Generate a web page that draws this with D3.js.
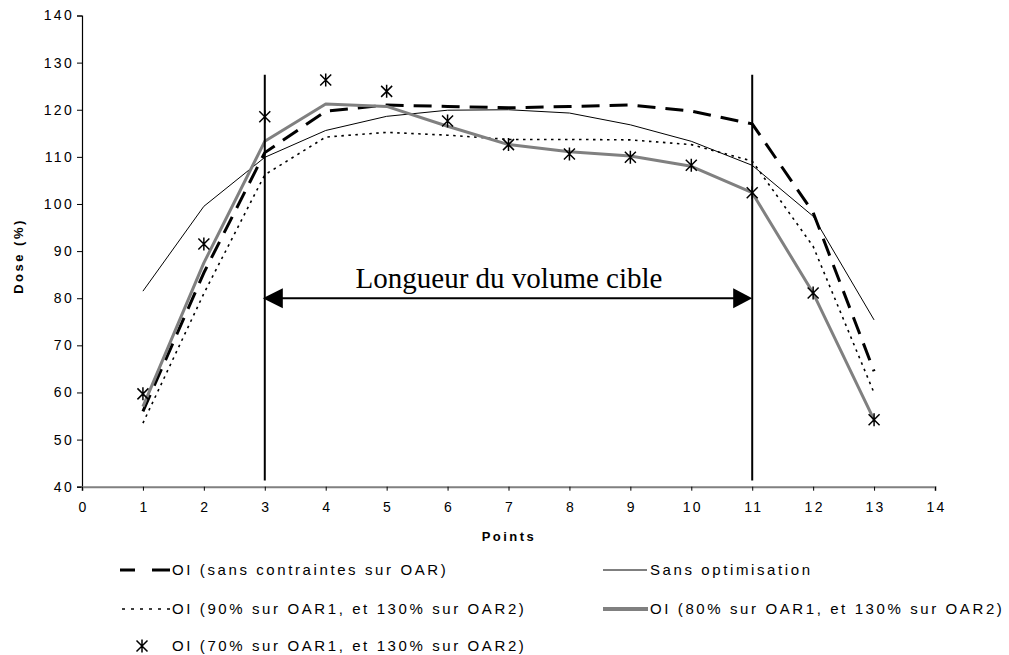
<!DOCTYPE html>
<html><head><meta charset="utf-8">
<script src="https://cdn.jsdelivr.net/npm/d3@7"></script>
<style>
body{margin:0;background:#fff;}
svg{display:block;font-family:"Liberation Sans",Arial,sans-serif;}
</style></head>
<body><svg id="chart" width="1009" height="655"></svg>
<script>
const points = [1,2,3,4,5,6,7,8,9,10,11,12,13];
const xTicks = [0,1,2,3,4,5,6,7,8,9,10,11,12,13,14];
const yTicks = [40,50,60,70,80,90,100,110,120,130,140];
const oiSansContraintes = [56.0, 85.4, 110.9, 119.7, 121.0, 120.7, 120.4, 120.7, 121.0, 119.7, 117.0, 98.2, 64.5];
const sansOptimisation  = [81.5, 99.5, 109.9, 115.6, 118.6, 119.9, 120.0, 119.3, 116.8, 113.3, 108.2, 97.4, 75.4];
const oi90 = [53.5, 81.0, 106.2, 114.2, 115.2, 114.6, 113.7, 113.7, 113.6, 112.6, 109.1, 91.0, 59.9];
const oi80 = [57.0, 87.5, 113.3, 121.2, 120.7, 116.5, 112.6, 111.1, 110.2, 108.0, 102.4, 81.1, 54.2];
const oi70 = [59.7, 91.5, 118.5, 126.3, 123.9, 117.6, 112.6, 110.6, 109.9, 108.2, 102.4, 81.1, 54.2];
const seriesNames = ["OI (sans contraintes sur OAR)", "Sans optimisation", "OI (90% sur OAR1, et 130% sur OAR2)", "OI (80% sur OAR1, et 130% sur OAR2)", "OI (70% sur OAR1, et 130% sur OAR2)"];
const targetBounds = [3, 11];
const targetSpan = [41.3, 127.4];
const arrowLevel = 80;
const annotationText = "Longueur du volume cible";
const xTitle = "Points";
const yTitle = "Dose (%)";

const svg = d3.select("#chart");
const x = d3.scaleLinear().domain([0,14]).range([82,935]);
const y = d3.scaleLinear().domain([40,140]).range([486.7,15.5]);

// Y axis
const ya = svg.append("g").attr("transform","translate(82,0)")
  .call(d3.axisLeft(y).tickValues(yTicks).tickSize(5).tickPadding(5));
ya.select(".domain").attr("stroke","#000").attr("stroke-width",1.2);
ya.selectAll(".tick line").attr("stroke","#000");
ya.selectAll("text").attr("font-size",14).attr("font-family","Liberation Sans, Arial, sans-serif")
  .attr("letter-spacing","2.3px").attr("fill","#000").attr("dx","2");

// X axis
const xa = svg.append("g").attr("transform","translate(0,"+y(40)+")")
  .call(d3.axisBottom(x).tickValues(xTicks).tickSize(4).tickPadding(11).tickSizeOuter(4));
xa.select(".domain").attr("stroke","#808080").attr("stroke-width",2);
xa.selectAll(".tick line").attr("stroke","#000");
xa.selectAll("text").attr("font-size",14).attr("font-family","Liberation Sans, Arial, sans-serif")
  .attr("letter-spacing","2.3px").attr("fill","#000").attr("dx","1");

// axis titles
svg.append("text").attr("x",509).attr("y",541).attr("text-anchor","middle")
  .attr("font-weight","bold").attr("font-size",13).attr("letter-spacing","2.5px").text(xTitle);
svg.append("text").attr("transform","translate(23,256) rotate(-90)").attr("text-anchor","middle")
  .attr("font-weight","bold").attr("font-size",13).attr("letter-spacing","2.5px").text(yTitle);

const line = d3.line().x((d,i)=>x(points[i])).y(d=>y(d));
const styles = [
  {data:oiSansContraintes, stroke:"#000", width:3, dash:"18,10"},
  {data:sansOptimisation, stroke:"#000", width:1, dash:null},
  {data:oi90, stroke:"#000", width:1.6, dash:"2.5,4.5"},
  {data:oi80, stroke:"#808080", width:3, dash:null}
];
styles.forEach(s=>{
  svg.append("path").datum(s.data).attr("d",line).attr("fill","none")
    .attr("stroke",s.stroke).attr("stroke-width",s.width)
    .attr("stroke-dasharray",s.dash).attr("stroke-linejoin","round");
});

const starPath = "M-5.5,-5.5L5.5,5.5M-5.5,5.5L5.5,-5.5M0,-6.5L0,6.5";
svg.append("g").selectAll("path").data(oi70).join("path")
  .attr("transform",(d,i)=>"translate("+x(points[i])+","+y(d)+")")
  .attr("d",starPath).attr("stroke","#000").attr("stroke-width",1.5).attr("fill","none");

// annotation: target volume bounds
targetBounds.forEach(b=>{
  svg.append("line").attr("x1",x(b)).attr("x2",x(b)).attr("y1",y(targetSpan[1])).attr("y2",y(targetSpan[0]))
    .attr("stroke","#000").attr("stroke-width",2);
});
const ay = y(arrowLevel);
const xl = x(targetBounds[0]), xr = x(targetBounds[1]);
svg.append("line").attr("x1",xl+10).attr("x2",xr-10).attr("y1",ay).attr("y2",ay).attr("stroke","#000").attr("stroke-width",2);
svg.append("path").attr("d",`M${xl-2},${ay}L${xl+18},${ay-10}L${xl+18},${ay+10}Z`).attr("fill","#000");
svg.append("path").attr("d",`M${xr},${ay}L${xr-19},${ay-10}L${xr-19},${ay+10}Z`).attr("fill","#000");
svg.append("text").attr("x",509).attr("y",288).attr("text-anchor","middle")
  .attr("font-family","Liberation Serif, Times New Roman, serif").attr("font-size",29).text(annotationText);

// legend
const legend = [
  {name:seriesNames[0], x0:120, x1:170, ty:575, kind:"dash"},
  {name:seriesNames[1], x0:603, x1:647, ty:575, kind:"thin"},
  {name:seriesNames[2], x0:120, x1:170, ty:614, kind:"dot"},
  {name:seriesNames[3], x0:603, x1:648, ty:614, kind:"grey"},
  {name:seriesNames[4], x0:120, x1:170, ty:651, kind:"star"}
];
const lg = svg.append("g");
legend.forEach(l=>{
  const ly = l.ty-5;
  if(l.kind==="dash") lg.append("line").attr("x1",l.x0).attr("x2",l.x1).attr("y1",ly).attr("y2",ly)
      .attr("stroke","#000").attr("stroke-width",3).attr("stroke-dasharray","15,17,18");
  if(l.kind==="thin") lg.append("line").attr("x1",l.x0).attr("x2",l.x1).attr("y1",ly).attr("y2",ly)
      .attr("stroke","#000").attr("stroke-width",1);
  if(l.kind==="dot") lg.append("line").attr("x1",l.x0+2).attr("x2",l.x1).attr("y1",ly).attr("y2",ly)
      .attr("stroke","#000").attr("stroke-width",1.6).attr("stroke-dasharray","3,6");
  if(l.kind==="grey") lg.append("line").attr("x1",l.x0).attr("x2",l.x1).attr("y1",ly).attr("y2",ly)
      .attr("stroke","#808080").attr("stroke-width",4);
  if(l.kind==="star") lg.append("path").attr("transform",`translate(142,${ly})`).attr("d",starPath)
      .attr("stroke","#000").attr("stroke-width",1.5).attr("fill","none");
  lg.append("text").attr("x",l.kind==="thin"||l.kind==="grey"?650:172).attr("y",l.ty)
    .attr("font-size",15).attr("letter-spacing","2.6px").attr("fill","#000").text(l.name);
});
</script></body></html>
